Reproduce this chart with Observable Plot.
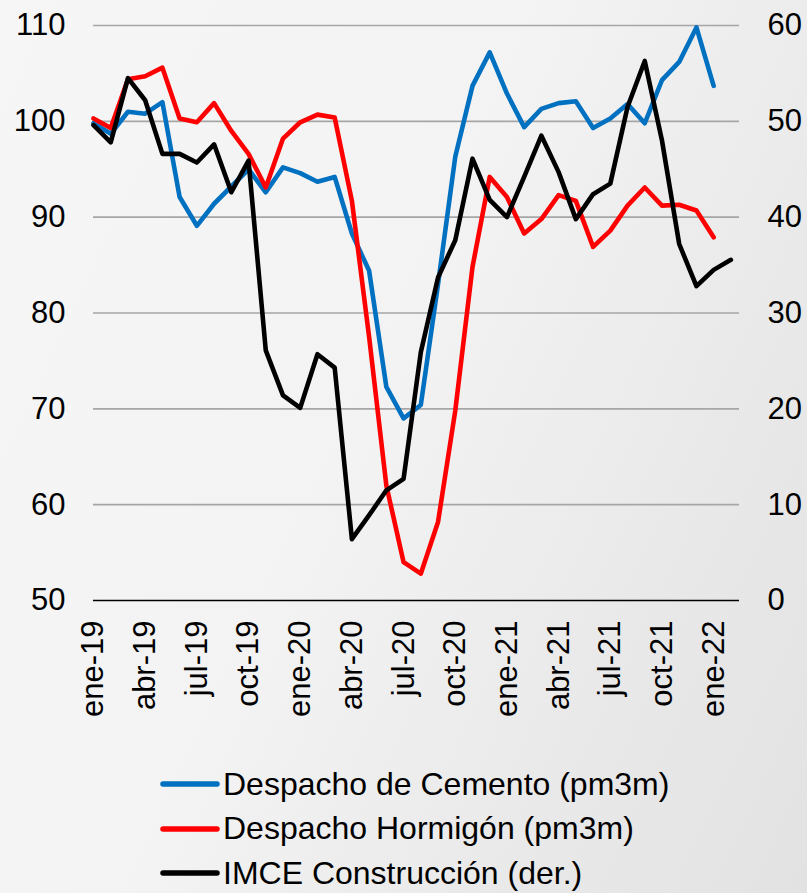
<!DOCTYPE html>
<html>
<head>
<meta charset="utf-8">
<script src="https://cdn.jsdelivr.net/npm/d3@7"></script>
<script src="https://cdn.jsdelivr.net/npm/@observablehq/plot@0.6"></script>
<style>
  html, body { margin: 0; padding: 0; }
  body {
    width: 807px; height: 893px; overflow: hidden;
    background: linear-gradient(115deg, #f6f6f6 0%, #f3f3f3 45%, #e9e9e9 75%, #e2e2e2 100%);
    font-family: "Liberation Sans", Arial, sans-serif;
  }
  #wrap { position: relative; width: 807px; height: 893px; }
  #chart { position: absolute; left: 0; top: 0; }
  #legend { position: absolute; left: 160px; top: 762px; }
  .row { display: flex; align-items: center; height: 44.5px; font-size: 32px; color: #000; white-space: nowrap; }
  .row svg { margin-right: 3px; }
</style>
</head>
<body>
<div id="wrap">
  <div id="chart"></div>
  <div id="legend"></div>
</div>
<script>
// Months (x categories)
const meses = [
  "ene-19","feb-19","mar-19","abr-19","may-19","jun-19","jul-19","ago-19","sep-19","oct-19","nov-19","dic-19",
  "ene-20","feb-20","mar-20","abr-20","may-20","jun-20","jul-20","ago-20","sep-20","oct-20","nov-20","dic-20",
  "ene-21","feb-21","mar-21","abr-21","may-21","jun-21","jul-21","ago-21","sep-21","oct-21","nov-21","dic-21",
  "ene-22","feb-22"
];
const tickLabels = ["ene-19","abr-19","jul-19","oct-19","ene-20","abr-20","jul-20","oct-20","ene-21","abr-21","jul-21","oct-21","ene-22"];

const seriesNames = ["Despacho de Cemento (pm3m)", "Despacho Hormigón (pm3m)", "IMCE Construcción (der.)"];
const seriesColors = ["#0070c0", "#ff0000", "#000000"];

// Left axis series
const cemento = [
  99.8, 98.7, 101.0, 100.8, 102.0, 92.1, 89.1, 91.4, 93.2, 95.0, 92.6, 95.2,
  94.6, 93.7, 94.2, 88.3, 84.4, 72.3, 69.0, 70.4, 83.0, 96.3, 103.7, 107.2,
  102.9, 99.4, 101.3, 101.9, 102.1, 99.3, 100.3, 101.8, 99.8, 104.3, 106.2, 109.8,
  103.7
];
const hormigon = [
  100.3, 99.3, 104.4, 104.7, 105.6, 100.3, 99.9, 101.9, 99.0, 96.6, 93.1, 98.2,
  99.9, 100.7, 100.4, 91.7, 77.5, 62.0, 54.0, 52.8, 58.2, 69.8, 84.8, 94.2,
  92.1, 88.3, 89.8, 92.3, 91.7, 86.9, 88.6, 91.2, 93.1, 91.2, 91.3, 90.7,
  87.9
];
// Right axis series
const imce = [
  49.6, 47.8, 54.5, 52.2, 46.6, 46.6, 45.7, 47.6, 42.6, 45.9, 26.1, 21.4,
  20.1, 25.7, 24.3, 6.4, 8.9, 11.5, 12.7, 25.9, 33.7, 37.6, 46.1, 41.8,
  40.0, 44.2, 48.5, 44.7, 39.8, 42.4, 43.5, 51.5, 56.3, 48.0, 37.2, 32.8,
  34.5, 35.55
];

const leftTicks = [50, 60, 70, 80, 90, 100, 110];
const rightOffset = 50; // right axis 0..60 maps onto left axis 50..110

const data = [];
cemento.forEach((v, i) => data.push({i, v, s: seriesNames[0]}));
hormigon.forEach((v, i) => data.push({i, v, s: seriesNames[1]}));
imce.forEach((v, i) => data.push({i, v: v + rightOffset, s: seriesNames[2]}));

const tickPos = tickLabels.map(l => meses.indexOf(l));

const chart = Plot.plot({
  width: 807,
  height: 745,
  marginLeft: 93,
  marginRight: 68,
  marginTop: 25,
  marginBottom: 145,
  style: {background: "transparent", fontFamily: "'Liberation Sans', Arial, sans-serif", fontSize: "31px", color: "#000"},
  x: {domain: [0, meses.length - 0.5], axis: null},
  y: {domain: [50, 110], axis: null},
  color: {domain: seriesNames, range: seriesColors},
  marks: [
    Plot.ruleY(leftTicks.filter(t => t > 50), {stroke: "#a6a6a6", strokeWidth: 1.6}),
    Plot.ruleY([50], {stroke: "#000", strokeWidth: 1.3}),
    Plot.axisY({anchor: "left", ticks: leftTicks, tickSize: 0, tickPadding: 28, label: null, fontSize: 31}),
    Plot.axisY({anchor: "right", ticks: leftTicks, tickFormat: d => String(d - rightOffset), tickSize: 0, tickPadding: 28, label: null, fontSize: 31}),
    Plot.axisX({ticks: tickPos, tickFormat: i => meses[i], tickRotate: -90, tickSize: 0, tickPadding: 20, label: null, fontSize: 31}),
    Plot.line(data, {x: "i", y: "v", z: "s", stroke: "s", strokeWidth: 4.6, strokeLinejoin: "round", strokeLinecap: "round"})
  ]
});
document.getElementById("chart").appendChild(chart);

const legend = document.getElementById("legend");
seriesNames.forEach((name, k) => {
  const row = document.createElement("div");
  row.className = "row";
  row.innerHTML = `<svg width="60" height="8"><line x1="3" y1="4" x2="57" y2="4" stroke="${seriesColors[k]}" stroke-width="5.5" stroke-linecap="round"/></svg><span></span>`;
  row.querySelector("span").textContent = name;
  legend.appendChild(row);
});
</script>
</body>
</html>
